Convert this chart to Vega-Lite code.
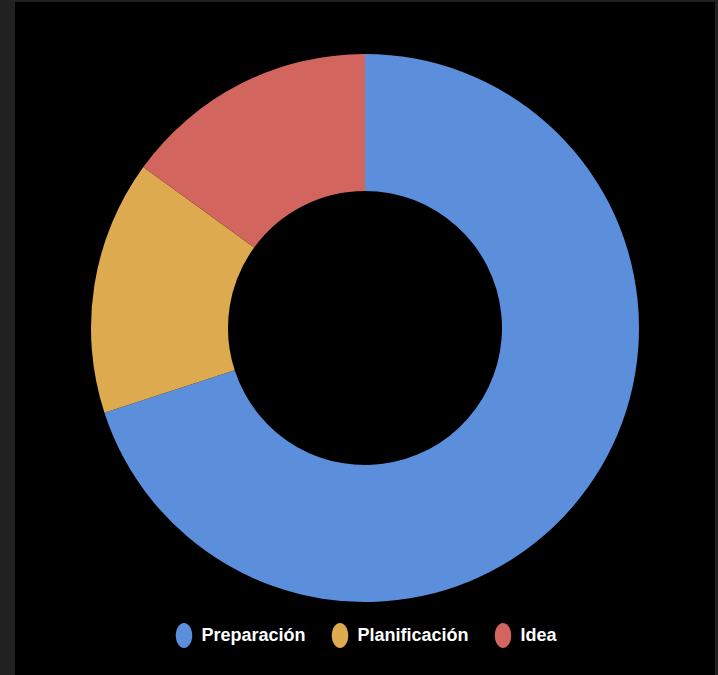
{
  "$schema": "https://vega.github.io/schema/vega-lite/v6.json",
  "width": 718,
  "height": 675,
  "autosize": {"type": "fit", "contains": "padding"},
  "padding": {"left": 15, "top": 2, "right": 3, "bottom": 0},
  "background": "#212121",
  "view": {"fill": "#000000", "stroke": null},
  "data": {
    "values": [
      {"etapa": "Preparación", "valor": 70, "orden": 1},
      {"etapa": "Planificación", "valor": 15, "orden": 2},
      {"etapa": "Idea", "valor": 15, "orden": 3}
    ]
  },
  "mark": {"type": "arc", "innerRadius": 137, "outerRadius": 274, "yOffset": -10.5},
  "encoding": {
    "theta": {"field": "valor", "type": "quantitative", "stack": true},
    "order": {"field": "orden", "type": "quantitative"},
    "color": {
      "field": "etapa",
      "type": "nominal",
      "sort": ["Preparación", "Planificación", "Idea"],
      "scale": {
        "domain": ["Preparación", "Planificación", "Idea"],
        "range": ["#5B8EDB", "#DDAA50", "#D3655F"]
      },
      "legend": {
        "title": null,
        "orient": "none",
        "direction": "horizontal",
        "legendX": 156.5,
        "legendY": 621,
        "symbolType": "M-0.66,0A0.66,1 0 1,0 0.66,0A0.66,1 0 1,0 -0.66,0Z",
        "symbolSize": 625,
        "symbolStrokeWidth": 0,
        "symbolOpacity": 1,
        "labelColor": "#FFFFFF",
        "labelFont": "Liberation Sans",
        "labelFontSize": 18,
        "labelFontWeight": "bold",
        "labelOffset": 5,
        "columnPadding": 21,
        "labelLimit": 300
      }
    }
  }
}
